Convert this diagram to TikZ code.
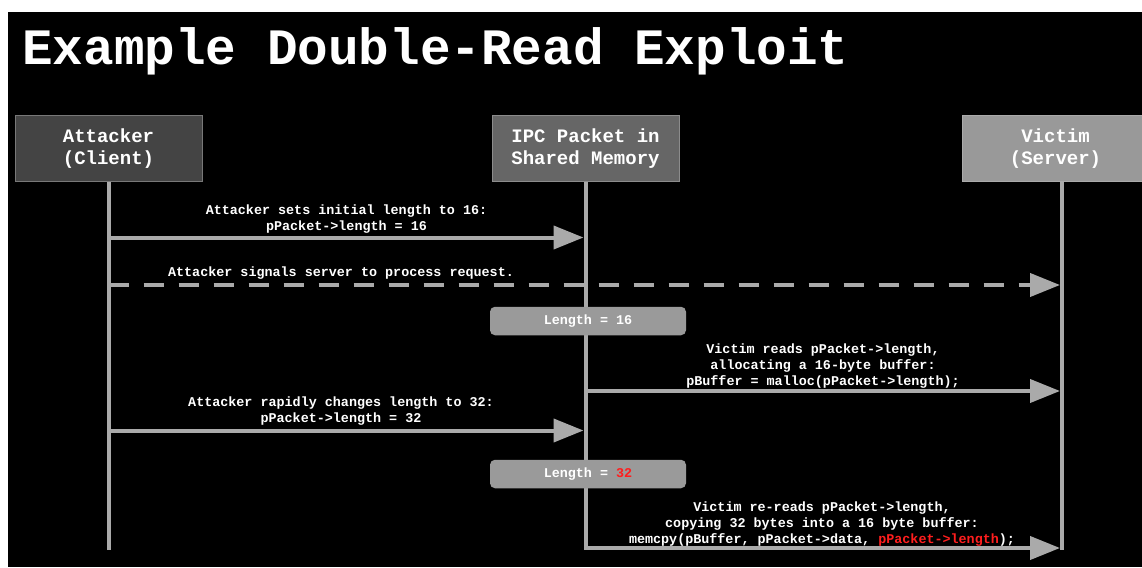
\documentclass[tikz,border=0pt]{standalone}
\usepackage{fontspec}
\setmonofont{Liberation Mono}
\usepackage{tikz}
\usetikzlibrary{arrows.meta,calc,positioning}

\definecolor{attfill}{HTML}{444444}
\definecolor{attdraw}{HTML}{787878}
\definecolor{ipcfill}{HTML}{666666}
\definecolor{ipcdraw}{HTML}{8C8C8C}
\definecolor{vicfill}{HTML}{999999}
\definecolor{vicdraw}{HTML}{ABABAB}
\definecolor{lenfill}{HTML}{9A9A9A}
\definecolor{lineclr}{HTML}{AAAAAA}
\definecolor{codered}{HTML}{FF1E1E}

\begin{document}
\begin{tikzpicture}[x=1pt, y=1pt, node distance=290pt,
    head/.style={rectangle, draw, line width=1pt, text=white, align=center,
      font=\fontsize{19}{22}\selectfont\ttfamily\bfseries,
      minimum width=187pt, minimum height=65pt, inner sep=0pt},
    lbl/.style={text=white, align=center, inner sep=0pt,
      font=\fontsize{13.4}{16}\selectfont\ttfamily\bfseries},
    lenbox/.style={rectangle, rounded corners=5pt, fill=lenfill, text=white,
      font=\fontsize{13.4}{16}\selectfont\ttfamily\bfseries,
      minimum width=196pt, minimum height=28.5pt, inner sep=0pt},
    life/.style={draw=lineclr, line width=4pt},
    msg/.style={draw=lineclr, line width=4pt, shorten >=2pt,
      -{Triangle[length=30pt, width=23pt]}}]
    \fill[white] (0,0) rectangle (1142,-567);
    \fill[black] (8,-12) rectangle (1142,-567);
    \useasboundingbox (0,0) rectangle (1142,-567);

    \node[anchor=base west, text=white, inner sep=0pt,
      font=\fontsize{51}{51}\selectfont\ttfamily\bfseries] (title) at (22,-65) {Example Double-Read Exploit};

    \node[head, fill=attfill, draw=attdraw] (attacker) at (108.5,-148.5) {Attacker\\(Client)};
    \node[head, fill=ipcfill, draw=ipcdraw, right=289pt of attacker] (ipc) {IPC Packet in\\Shared Memory};
    \node[head, fill=vicfill, draw=vicdraw, right=282pt of ipc] (victim) {Victim\\(Server)};
    \coordinate (vline) at ([xshift=6.5pt]victim.south);

    \draw[life] (attacker.south) -- (attacker |- 0,-550);
    \draw[life] (ipc.south) -- (ipc |- 0,-550);
    \draw[life] (vline) -- (vline |- 0,-550);

    \node[lbl] (setlbl) at (346.5,-219) {Attacker sets initial length to 16:\\pPacket->length = 16};
    \draw[msg] (attacker |- 0,-237.5) -- (ipc |- 0,-237.5);

    \node[lbl] (signallbl) at (341,-273.5) {Attacker signals server to process request.};
    \draw[msg, dash pattern=on 20pt off 15pt] (attacker |- 0,-285) -- (vline |- 0,-285);

    \node[lenbox] (len16) at (588,-321) {Length = 16};

    \node[lbl] (readlbl) at (823,-366.5) {Victim reads pPacket->length,\\allocating a 16-byte buffer:\\pBuffer = malloc(pPacket->length);};
    \draw[msg] (ipc |- 0,-391) -- (vline |- 0,-391);

    \node[lbl] (changelbl) at (341,-411.5) {Attacker rapidly changes length to 32:\\pPacket->length = 32};
    \draw[msg] (attacker |- 0,-430.5) -- (ipc |- 0,-430.5);

    \node[lenbox] (len32) at (588,-474) {Length = \textcolor{codered}{32}};

    \node[lbl] (rereadlbl) at (822,-524) {Victim re-reads pPacket->length,\\copying 32 bytes into a 16 byte buffer:\\memcpy(pBuffer, pPacket->data, \textcolor{codered}{pPacket->length});};
    \draw[msg] (ipc |- 0,-548) -- (vline |- 0,-548);
\end{tikzpicture}
\end{document}
